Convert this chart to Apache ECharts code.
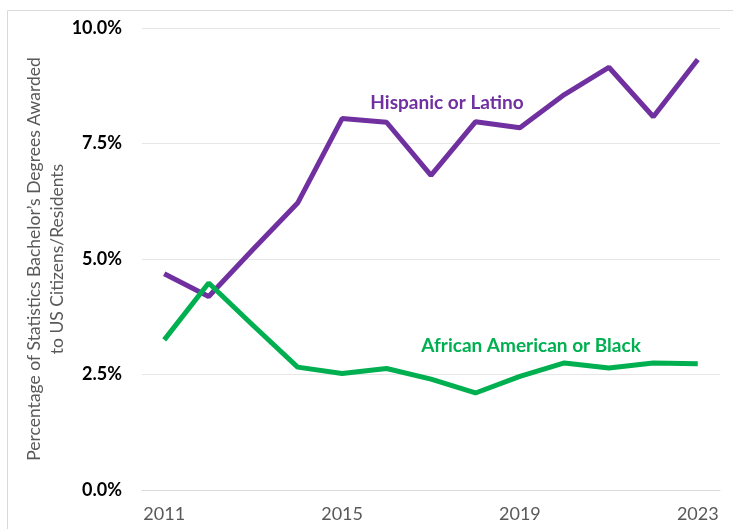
<!DOCTYPE html>
<html>
<head>
<meta charset="utf-8">
<script src="https://cdn.jsdelivr.net/npm/echarts@6/dist/echarts.min.js"></script>
<style>
  html, body { margin: 0; padding: 0; background: #fff; }
</style>
</head>
<body>
<div id="myChart" style="width:733px;height:529px;"></div>
<script>
// years on the x axis
const years = ["2011", "2012", "2013", "2014", "2015", "2016", "2017", "2018", "2019", "2020", "2021", "2022", "2023"];
// share of statistics bachelor's degrees, percent
const hispanic = [4.68, 4.19, 5.21, 6.21, 8.04, 7.96, 6.81, 7.97, 7.84, 8.56, 9.15, 8.08, 9.32];
const black = [3.25, 4.48, 3.56, 2.66, 2.52, 2.63, 2.40, 2.10, 2.46, 2.75, 2.64, 2.75, 2.73];
const yTicks = [0, 2.5, 5, 7.5, 10];

const purple = "#7030A0";
const green = "#00B050";
const font = "Lato, 'Open Sans', sans-serif";

let myChart = echarts.init(document.getElementById("myChart"));
myChart.setOption({
  animation: false,
  textStyle: { fontFamily: font },
  grid: {
    left: 142,
    right: 13,
    top: 28,
    bottom: 39
  },
  xAxis: {
    type: "category",
    data: years,
    boundaryGap: true,
    axisLine: { lineStyle: { color: "#d9d9d9", width: 1 } },
    axisTick: { interval: 0, length: 5, lineStyle: { color: "#d9d9d9" } },
    axisLabel: {
      interval: 3,
      color: "#595959",
      fontSize: 18,
      margin: 15
    }
  },
  yAxis: {
    type: "value",
    min: yTicks[0],
    max: yTicks[yTicks.length - 1],
    interval: 2.5,
    name: "Percentage of Statistics Bachelor\u2019s Degrees Awarded\nto US Citizens/Residents",
    nameLocation: "middle",
    nameGap: 73,
    nameMoveOverlap: false,
    nameTextStyle: {
      color: "#595959",
      fontSize: 17.5,
      lineHeight: 23
    },
    axisLine: { show: false },
    axisTick: { show: false },
    splitLine: { lineStyle: { color: "#e6e6e6", width: 1 } },
    axisLabel: {
      color: "#000",
      fontWeight: "bold",
      fontSize: 18,
      margin: 20,
      formatter: function (v) { return v.toFixed(1) + "%"; }
    }
  },
  graphic: [
    {
      type: "rect",
      silent: true,
      shape: { x: 7.5, y: 10.5, width: 760, height: 560 },
      style: { fill: "none", stroke: "#d9d9d9", lineWidth: 1 }
    },
    {
      type: "text",
      x: 447,
      y: 103,
      style: {
        text: "Hispanic or Latino", fill: purple, font: "bold 19px " + font,
        align: "center", verticalAlign: "middle"
      }
    },
    {
      type: "text",
      x: 531,
      y: 346,
      style: {
        text: "African American or Black", fill: green, font: "bold 19px " + font,
        align: "center", verticalAlign: "middle"
      }
    }
  ],
  series: [
    {
      name: "Hispanic or Latino",
      type: "line",
      data: hispanic,
      symbol: "none",
      lineStyle: { color: purple, width: 5 },
      z: 3
    },
    {
      name: "African American or Black",
      type: "line",
      data: black,
      symbol: "none",
      lineStyle: { color: green, width: 5 },
      z: 4
    }
  ]
});
</script>
</body>
</html>
